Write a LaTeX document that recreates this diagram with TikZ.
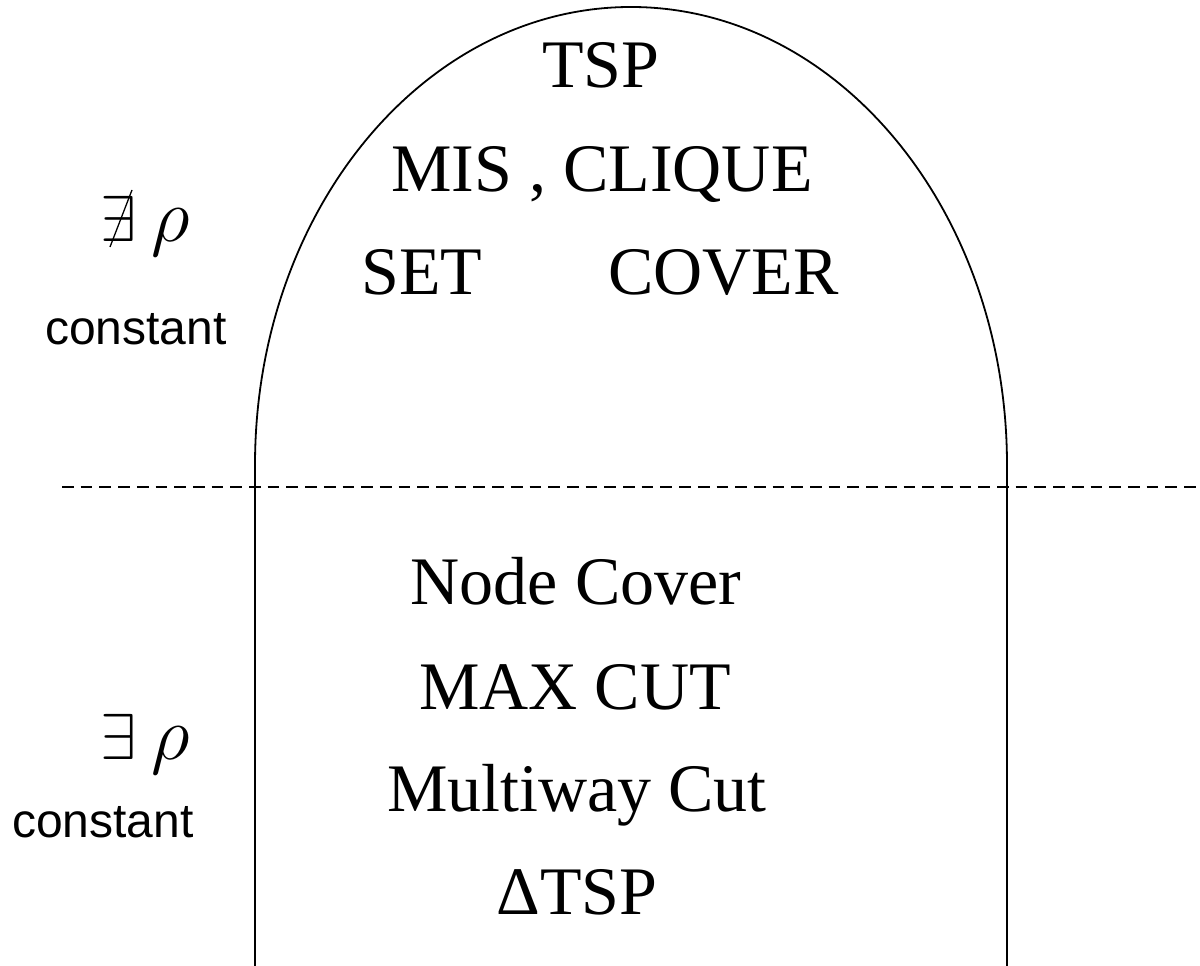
\RequirePackage{fix-cm}
\documentclass[tikz,border=0pt]{standalone}
\usepackage{fontspec}
\setmainfont{Liberation Serif}
\setsansfont{Liberation Sans}
\begin{document}
\begin{tikzpicture}[x=1pt,y=1pt,
  big/.style={inner sep=0pt,anchor=base,font=\fontsize{68}{80}\selectfont},
  sidelbl/.style={inner sep=0pt,anchor=base west,font=\sffamily\fontsize{48}{56}\selectfont},
  exsym/.style={inner sep=0pt,anchor=base west,font=\fontsize{65}{76}\selectfont},
  rhosym/.style={inner sep=0pt,anchor=base west,font=\fontsize{76}{90}\selectfont},
  archline/.style={line width=1.8pt},
  sepline/.style={line width=2.6pt,dash pattern=on 11.7pt off 7pt}]
\useasboundingbox (0,0) rectangle (1200,966);
% arch
\coordinate (al) at (255,0);
\coordinate (ar) at (1007,0);
\draw[archline] (al) -- (255,501) arc[start angle=180,end angle=0,x radius=376,y radius=458] -- (ar);
% separator
\coordinate (dl) at (62,479);
\coordinate (dr) at (1200,479);
\draw[sepline] (dl) -- (dr);
% upper texts
\node[big] (tsp) at (601,878) {TSP};
\node[big] (mis) at (602,774) {MIS , CLIQUE};
\node[big] (set) at (600,671) {SET\hspace*{126pt}COVER};
% lower texts
\node[big] (nc) at (576,361) {Node Cover};
\node[big] (mc) at (575,256) {MAX CUT};
\node[big] (mw) at (577,154) {Multiway Cut};
\node[big] (dt) at (577,51) {ΔTSP};
% left labels
\node[exsym] (ex1) at (100,724) {$\exists$};
\node[rhosym] (rho1) at (151,724) {$\rho$};
\draw[line width=1.3pt] (110,719) -- (132,776);
\node[sidelbl] (c1) at (45,621) {constant};
\node[exsym] (ex2) at (100,206) {$\exists$};
\node[rhosym] (rho2) at (151,206) {$\rho$};
\node[sidelbl] (c2) at (12,128) {constant};
\end{tikzpicture}
\end{document}
